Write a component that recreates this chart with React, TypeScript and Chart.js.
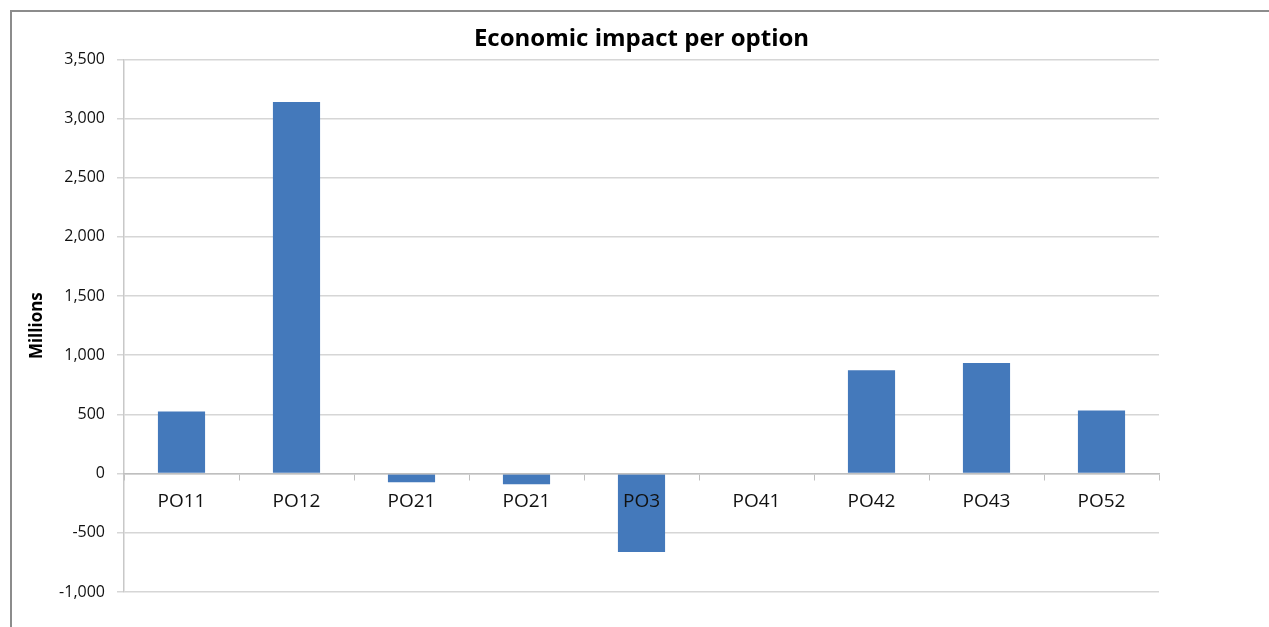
import React, { useEffect, useRef } from 'react';
import { Chart, registerables } from 'chart.js';

Chart.register(...registerables);

const categories = ['PO11', 'PO12', 'PO21', 'PO21', 'PO3', 'PO41', 'PO42', 'PO43', 'PO52'];
const impactMillions = [525, 3140, -72, -90, -663, 0, 873, 935, 533];
const yTickValues = [-1000, -500, 0, 500, 1000, 1500, 2000, 2500, 3000, 3500];

const chartTitle = 'Economic impact per option';
const yAxisTitle = 'Millions';

export default function App() {
  const canvasRef = useRef<HTMLCanvasElement | null>(null);

  useEffect(() => {
    const canvas = canvasRef.current;
    if (!canvas) return;
    const chart = new Chart(canvas, {
      type: 'bar',
      data: {
        labels: categories,
        datasets: [
          {
            label: 'Economic impact',
            data: impactMillions,
            backgroundColor: '#4479BB',
            borderWidth: 0,
            categoryPercentage: 1,
            barPercentage: 0.41,
          },
        ],
      },
      options: {
        responsive: false,
        animation: false,
        devicePixelRatio: 1,
        layout: { padding: { left: 0, right: 110, top: 0, bottom: 35 } },
        plugins: {
          legend: { display: false },
          tooltip: { enabled: false },
          title: {
            display: true,
            text: chartTitle,
            fullSize: false,
            color: '#000000',
            font: { family: 'Open Sans', size: 24, weight: 'bold' },
            padding: { top: 25, bottom: 5.5 },
          },
        },
        scales: {
          x: {
            type: 'category',
            position: { y: 0 },
            offset: true,
            grid: {
              offset: true,
              drawOnChartArea: false,
              drawTicks: true,
              tickLength: 6,
              color: '#bfbfbf',
              lineWidth: 1,
            },
            border: { display: true, color: '#bfbfbf', width: 1.5, z: 1 },
            ticks: {
              z: 1,
              color: '#111111',
              font: { family: 'Open Sans', size: 19 },
              padding: 11,
              maxRotation: 0,
              autoSkip: false,
            },
          },
          y: {
            type: 'linear',
            min: yTickValues[0],
            max: yTickValues[yTickValues.length - 1],
            afterFit: (scale: any) => {
              scale.width = 124;
            },
            afterBuildTicks: (scale: any) => {
              scale.ticks = yTickValues.map((v) => ({ value: v }));
            },
            grid: {
              color: '#d6d6d6',
              lineWidth: 1.5,
              tickLength: 7,
              drawTicks: true,
            },
            border: { display: true, color: '#c8c8c8', width: 1.5 },
            ticks: {
              color: '#111111',
              font: { family: 'Open Sans', size: 16 },
              padding: 12,
              callback: (v: any) => Number(v).toLocaleString('en-US'),
            },
            title: {
              display: true,
              text: yAxisTitle,
              color: '#000000',
              font: { family: 'Open Sans', size: 17, weight: 'bold' },
              padding: { top: 27, bottom: 0 },
            },
          },
        },
      },
    });
    return () => chart.destroy();
  }, []);

  return (
    <div
      style={{
        position: 'absolute',
        left: 0,
        top: 0,
        width: 1269,
        height: 627,
        overflow: 'hidden',
        background: '#ffffff',
      }}
    >
      <div
        style={{
          position: 'absolute',
          left: 10,
          top: 10,
          width: 1400,
          height: 800,
          border: '2px solid #8c8c8c',
          boxSizing: 'border-box',
        }}
      />
      <canvas
        ref={canvasRef}
        width={1269}
        height={627}
        style={{ position: 'absolute', left: 0, top: 0, display: 'block', width: 1269, height: 627 }}
      />
    </div>
  );
}
